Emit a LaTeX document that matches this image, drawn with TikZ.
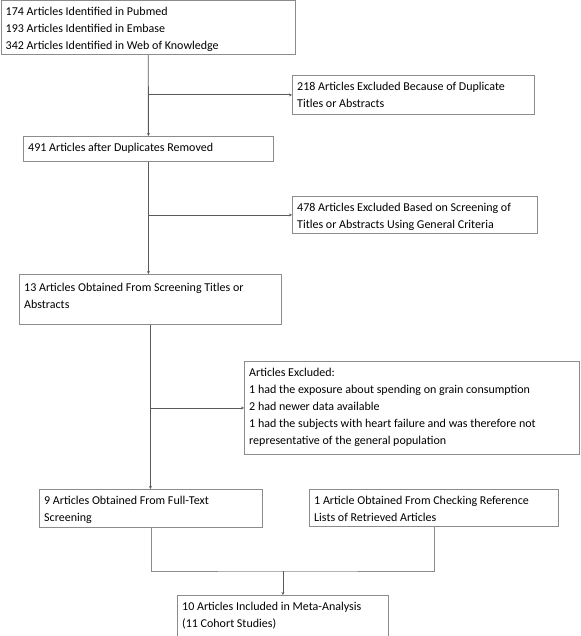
\documentclass[tikz,border=0pt]{standalone}
\usepackage{fontspec}
\setmainfont{Carlito}
\usetikzlibrary{arrows.meta,calc}
\definecolor{boxgray}{HTML}{8C8C8C}
\definecolor{linegray}{HTML}{5A5A5A}
\begin{document}
\begin{tikzpicture}[x=1pt,y=-1pt,
  box/.style={draw=boxgray, line width=0.9pt, fill=white, inner sep=0pt, anchor=north west},
  lbl/.style={anchor=north west, inner sep=0pt, align=left, font=\fontsize{12}{17}\selectfont, text=black},
  conn/.style={draw=linegray, line width=0.9pt},
  bracket/.style={draw=boxgray, line width=0.9pt},
  arr/.style={conn, -{Stealth[length=3pt,width=3pt]}},
]
\useasboundingbox (0,0) rectangle (580,636);

% boxes
\node[box, minimum width=294.5pt, minimum height=53.5pt] (b1) at (0.5,0.5) {};
\node[box, minimum width=242pt, minimum height=39pt] (b2) at (292,75) {};
\node[box, minimum width=250pt, minimum height=25pt] (b3) at (23,136) {};
\node[box, minimum width=245pt, minimum height=37pt] (b4) at (292,196) {};
\node[box, minimum width=262pt, minimum height=50pt] (b5) at (19,274) {};
\node[box, minimum width=335pt, minimum height=93pt] (b6) at (244,361) {};
\node[box, minimum width=223pt, minimum height=38pt] (b7) at (39,489) {};
\node[box, minimum width=249pt, minimum height=37pt] (b8) at (309,489) {};
\node[box, minimum width=211pt, minimum height=40.5pt] (b9) at (177,595) {};

% labels
\node[lbl] (t1) at ([shift={(5pt,-3pt)}]b1.north west) {\strut 174 Articles Identified in Pubmed\\193 Articles Identified in Embase\\342 Articles Identified in Web of Knowledge};
\node[lbl] (t2) at ([shift={(5pt,-3pt)}]b2.north west) {\strut 218 Articles Excluded Because of Duplicate\\Titles or Abstracts};
\node[lbl] (t3) at ([shift={(5pt,-3pt)}]b3.north west) {\strut 491 Articles after Duplicates Removed};
\node[lbl] (t4) at ([shift={(5pt,-3pt)}]b4.north west) {\strut 478 Articles Excluded Based on Screening of\\Titles or Abstracts Using General Criteria};
\node[lbl] (t5) at ([shift={(5pt,-5pt)}]b5.north west) {\strut 13 Articles Obtained From Screening Titles or\\Abstracts};
\node[lbl] (t6) at ([shift={(5pt,-3pt)}]b6.north west) {\strut Articles Excluded:\\1 had the exposure about spending on grain consumption\\2 had newer data available\\1 had the subjects with heart failure and was therefore not\\representative of the general population};
\node[lbl] (t7) at ([shift={(5pt,-3pt)}]b7.north west) {\strut 9 Articles Obtained From Full-Text\\Screening};
\node[lbl] (t8) at ([shift={(5pt,-3pt)}]b8.north west) {\strut 1 Article Obtained From Checking Reference\\Lists of Retrieved Articles};
\node[lbl] (t9) at ([shift={(5pt,-3pt)}]b9.north west) {\strut 10 Articles Included in Meta-Analysis\\(11 Cohort Studies)};

% connectors
\draw[arr] (b1.south) -- (b3.north);
\draw[arr] (b1.south |- b2.west) -- (b2.west);
\draw[arr] (b3.south) -- (b3.south |- b5.north);
\draw[arr] (b3.south |- b4.west) -- (b4.west);
\draw[arr] (b5.south) -- (b5.south |- b7.north);
\draw[arr] (b5.south |- b6.west) -- (b6.west);
\coordinate (jy) at (0,571);
\coordinate (j) at (b9.north |- jy);
\draw[bracket] (b7.south) |- (j) -| (b8.south);
\draw[arr] (j) -- (b9.north);
\end{tikzpicture}
\end{document}
